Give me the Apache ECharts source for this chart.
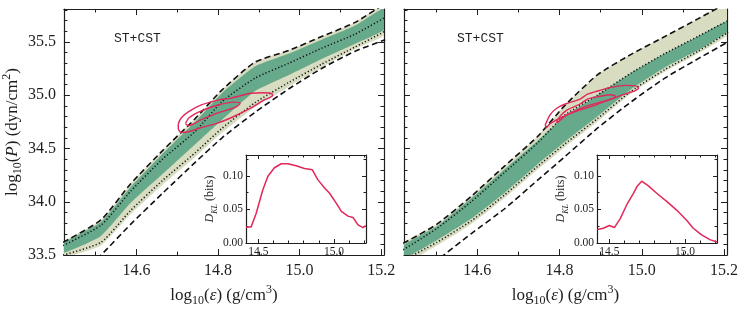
<!DOCTYPE html>
<html><head><meta charset="utf-8">
<script src="https://cdn.jsdelivr.net/npm/echarts@6/dist/echarts.min.js"></script>
<style>html,body{margin:0;padding:0;background:#fff}#c{width:747px;height:312px}</style>
</head><body><div id="c"></div>
<script>
// ---------- data ----------
const xGridL = [14.42, 14.513, 14.586, 14.664, 14.744, 14.810, 14.891, 14.974, 15.054, 15.135, 15.21];
const L_dashUp  = [33.62, 33.83, 34.17, 34.48, 34.78, 35.05, 35.31, 35.42, 35.55, 35.68, 35.86];
const L_dotUp   = [33.59, 33.78, 34.10, 34.40, 34.66, 34.94, 35.16, 35.30, 35.44, 35.57, 35.73];
const L_greenUp = [33.61, 33.81, 34.14, 34.45, 34.75, 35.02, 35.27, 35.39, 35.52, 35.65, 35.82];
const L_greenLo = [33.52, 33.68, 33.99, 34.26, 34.54, 34.77, 35.04, 35.19, 35.34, 35.48, 35.62];
const L_dotLo   = [33.50, 33.62, 33.92, 34.20, 34.46, 34.69, 34.93, 35.12, 35.29, 35.45, 35.60];
const L_beigeLo = [33.48, 33.59, 33.885, 34.16, 34.42, 34.65, 34.89, 35.08, 35.26, 35.43, 35.57];
const L_dashLo  = [33.15, 33.50, 33.79, 34.08, 34.37, 34.60, 34.84, 35.06, 35.25, 35.41, 35.52];

const xGridR = [14.42, 14.502, 14.585, 14.665, 14.746, 14.812, 14.892, 14.975, 15.056, 15.136, 15.21];
const R_dashUp  = [33.61, 33.79, 34.05, 34.33, 34.61, 34.90, 35.19, 35.385, 35.55, 35.715, 35.87];
const R_dotUp   = [33.55, 33.75, 34.00, 34.27, 34.55, 34.81, 35.00, 35.21, 35.39, 35.55, 35.70];
const R_greenUp = [33.59, 33.77, 34.03, 34.30, 34.57, 34.80, 35.00, 35.21, 35.39, 35.55, 35.70];
const R_greenLo = [33.47, 33.64, 33.84, 34.08, 34.35, 34.56, 34.80, 35.06, 35.26, 35.42, 35.60];
const R_dotLo   = [33.45, 33.62, 33.82, 34.06, 34.33, 34.54, 34.78, 35.04, 35.24, 35.41, 35.59];
const R_beigeLo = [33.42, 33.59, 33.79, 34.03, 34.30, 34.51, 34.75, 35.02, 35.22, 35.39, 35.57];
const R_dashLo  = [33.20, 33.45, 33.70, 33.93, 34.20, 34.42, 34.69, 34.94, 35.16, 35.34, 35.50];

// posterior contours (closed loops), [x, y]
const L_contourOuter = [[14.7025,34.733],[14.710,34.788],[14.727,34.843],[14.759,34.908],[14.800,34.954],[14.832,34.972],[14.881,35.018],[14.912,35.023],[14.929,35.018],[14.934,35.0],[14.924,34.972],[14.912,34.954],[14.881,34.880],[14.832,34.788],[14.795,34.733],[14.759,34.696],[14.729,34.659],[14.710,34.650],[14.7025,34.687],[14.7025,34.733]];
const L_contourInner = [[14.720,34.733],[14.729,34.788],[14.759,34.852],[14.800,34.908],[14.839,34.935],[14.854,34.926],[14.851,34.908],[14.839,34.880],[14.800,34.834],[14.759,34.770],[14.727,34.714],[14.720,34.733]];
const R_contourOuter = [[14.765,34.717],[14.777,34.816],[14.794,34.880],[14.814,34.917],[14.850,34.963],[14.868,35.009],[14.899,35.046],[14.924,35.073],[14.960,35.092],[14.985,35.087],[14.992,35.064],[14.980,35.036],[14.965,35.018],[14.924,34.963],[14.882,34.899],[14.843,34.853],[14.802,34.788],[14.777,34.733],[14.768,34.696],[14.765,34.717]];
const R_contourInner = [[14.792,34.742],[14.802,34.806],[14.819,34.862],[14.850,34.917],[14.868,34.963],[14.899,34.990],[14.924,35.004],[14.936,34.990],[14.926,34.963],[14.899,34.935],[14.868,34.899],[14.843,34.862],[14.814,34.806],[14.797,34.751],[14.792,34.742]];

// insets: KL divergence
const L_klX = [14.418,14.452,14.485,14.529,14.562,14.606,14.651,14.695,14.75,14.805,14.857,14.894,14.938,14.971,15.016,15.049,15.093,15.126,15.159,15.192,15.21];
const L_klY = [0.024,0.024,0.044,0.079,0.099,0.112,0.118,0.118,0.115,0.111,0.109,0.094,0.082,0.074,0.059,0.047,0.040,0.038,0.027,0.023,0.026];
const R_klX = [14.421,14.46,14.5,14.533,14.571,14.615,14.659,14.685,14.714,14.758,14.813,14.879,14.945,15.011,15.055,15.11,15.165,15.212];
const R_klY = [0.020,0.022,0.026,0.023,0.036,0.057,0.074,0.085,0.092,0.085,0.074,0.062,0.049,0.034,0.022,0.012,0.005,0.0015];

// ticks
const xMajorMain = [14.6, 14.8, 15.0, 15.2];
const xMinorMain = [14.5, 14.7, 14.9, 15.1];
const yMajorMain = [33.5, 34.0, 34.5, 35.0, 35.5];
const yMinorMain = [33.6,33.7,33.8,33.9,34.1,34.2,34.3,34.4,34.6,34.7,34.8,34.9,35.1,35.2,35.3,35.4,35.6,35.7,35.8];
const xMajorInset = [14.5, 15.0];
const xMinorInset = [14.6, 14.7, 14.8, 14.9, 15.1, 15.2];
const yMajorInset = [0, 0.05, 0.10];
const yMinorInset = [0.025, 0.075, 0.125];
const panelLabel = 'ST+CST';

// ---------- styling ----------
const INK = '#1e1e1e', GREEN = '#67a98b', BEIGE = '#d8dcc0', RED = '#e2275a';
const SERIF = 'Liberation Serif';
const MAIN_X = [14.422, 15.207], MAIN_Y = [33.5, 35.808];
const INS_X = [14.418, 15.212], INS_Y = [0, 0.131];

const xAxis = [], yAxis = [];
function addAxis(list, grid, pos, range, ticks, len, showLine, labelOpt, extra) {
  list.push(Object.assign({
    type: 'value', gridIndex: grid, position: pos, min: range[0], max: range[1],
    axisLine: {show: showLine, onZero: false, lineStyle: {color: INK, width: 1.2}},
    axisTick: {show: true, inside: true, length: len, customValues: ticks, lineStyle: {color: INK, width: 1}},
    axisLabel: labelOpt ? Object.assign({show: true, customValues: ticks}, labelOpt) : {show: false},
    splitLine: {show: false}, minorTick: {show: false}
  }, extra || {}));
  return list.length - 1;
}
const nameRich = (fs) => ({
  t: {fontFamily: SERIF, fontSize: fs, color: INK, lineHeight: fs + 6},
  i: {fontFamily: SERIF, fontSize: fs, fontStyle: 'italic', color: INK, lineHeight: fs + 6},
  s: {fontFamily: SERIF, fontSize: Math.round(fs * 0.68), color: INK, verticalAlign: 'bottom'},
  si: {fontFamily: SERIF, fontSize: Math.round(fs * 0.68), fontStyle: 'italic', color: INK, verticalAlign: 'bottom'},
  p: {fontFamily: SERIF, fontSize: Math.round(fs * 0.68), color: INK, verticalAlign: 'top'}
});
const mainLabel = {fontFamily: SERIF, fontSize: 16, color: INK, formatter: v => v.toFixed(1)};
const insetLabelX = {fontFamily: SERIF, fontSize: 11.5, color: INK, margin: 3, formatter: v => v.toFixed(1)};
const insetLabelY = {fontFamily: SERIF, fontSize: 11.5, color: INK, margin: 3, formatter: v => v.toFixed(2)};
const xName = {name: '{t|log}{s|10}{t|(}{i|ε}{t|) (g/cm}{p|3}{t|)}', nameLocation: 'middle', nameGap: 16,
  nameTextStyle: {rich: nameRich(17)}};
const yName = {name: '{t|log}{s|10}{t|(}{i|P}{t|) (dyn/cm}{p|2}{t|)}', nameLocation: 'middle', nameGap: 27,
  nameTextStyle: {rich: nameRich(17)}};
const klName = {name: '{i|D}{si|KL}{t| (bits)}', nameLocation: 'middle', nameGap: 26,
  nameTextStyle: {rich: nameRich(12)}};

const grids = [
  {left: 62, top: 9, width: 322, height: 251},
  {left: 404, top: 9, width: 323, height: 251},
  {left: 246, top: 155, width: 120, height: 88},
  {left: 597, top: 155, width: 120, height: 88}
];
const axIdx = [];
for (let g = 0; g < 4; g++) {
  const inset = g >= 2;
  const xr = inset ? INS_X : MAIN_X, yr = inset ? INS_Y : MAIN_Y;
  const xM = inset ? xMajorInset : xMajorMain, xm = inset ? xMinorInset : xMinorMain;
  const yM = inset ? yMajorInset : yMajorMain, ym = inset ? yMinorInset : yMinorMain;
  const ML = inset ? 4 : 6, mL = inset ? 2.5 : 3.5;
  const xi = addAxis(xAxis, g, 'bottom', xr, xM, ML, true, inset ? insetLabelX : mainLabel, inset ? null : xName);
  addAxis(xAxis, g, 'bottom', xr, xm, mL, false, null);
  addAxis(xAxis, g, 'top', xr, xM, ML, true, null);
  addAxis(xAxis, g, 'top', xr, xm, mL, false, null);
  const yi = addAxis(yAxis, g, 'left', yr, yM, ML, true, inset ? insetLabelY : (g === 0 ? mainLabel : null),
    inset ? klName : (g === 0 ? yName : null));
  addAxis(yAxis, g, 'left', yr, ym, mL, false, null);
  addAxis(yAxis, g, 'right', yr, yM, ML, true, null);
  addAxis(yAxis, g, 'right', yr, ym, mL, false, null);
  axIdx.push([xi, yi]);
}

const zip = (xs, ys) => xs.map((x, i) => [x, ys[i]]);
function band(g, xs, lo, hi, color, z) {
  return {
    type: 'custom', xAxisIndex: axIdx[g][0], yAxisIndex: axIdx[g][1], z: z, silent: true,
    data: [[xs[0], lo[0]]],
    renderItem: (params, api) => {
      const pts = [];
      for (let i = 0; i < xs.length; i++) pts.push(api.coord([xs[i], hi[i]]));
      for (let i = xs.length - 1; i >= 0; i--) pts.push(api.coord([xs[i], lo[i]]));
      const cs = params.coordSys;
      return {type: 'polygon', shape: {points: pts, smooth: 0.15}, style: {fill: color},
        clipPath: {type: 'rect', shape: {x: cs.x, y: cs.y, width: cs.width, height: cs.height}}};
    }
  };
}
function line(g, data, style, z, smooth) {
  return {type: 'line', xAxisIndex: axIdx[g][0], yAxisIndex: axIdx[g][1], data: data, symbol: 'none',
    smooth: smooth, lineStyle: style, z: z, silent: true, clip: true};
}
const dashed = {color: '#111', width: 1.6, type: [6, 3.5]};
const dotted = {color: '#111', width: 1.5, type: [1.2, 2.2]};
const redL = {color: RED, width: 1.4};

const series = [];
function panel(g, xs, dU, dtU, gU, gL, dtL, bL, dL, cO, cI) {
  series.push(band(g, xs, bL, dU, BEIGE, 1));
  series.push(band(g, xs, gL, gU, GREEN, 2));
  series.push(line(g, zip(xs, dU), dashed, 3, 0.2));
  series.push(line(g, zip(xs, dL), dashed, 3, 0.2));
  series.push(line(g, zip(xs, dtU), dotted, 3, 0.2));
  series.push(line(g, zip(xs, dtL), dotted, 3, 0.2));
  series.push(line(g, cO, redL, 4, 0.3));
  series.push(line(g, cI, redL, 4, 0.3));
}
panel(0, xGridL, L_dashUp, L_dotUp, L_greenUp, L_greenLo, L_dotLo, L_beigeLo, L_dashLo, L_contourOuter, L_contourInner);
panel(1, xGridR, R_dashUp, R_dotUp, R_greenUp, R_greenLo, R_dotLo, R_beigeLo, R_dashLo, R_contourOuter, R_contourInner);
series.push(line(2, zip(L_klX, L_klY), {color: RED, width: 1.5}, 4, false));
series.push(line(3, zip(R_klX, R_klY), {color: RED, width: 1.5}, 4, false));

const chart = echarts.init(document.getElementById('c'), null, {renderer: 'canvas'});
chart.setOption({
  animation: false,
  backgroundColor: '#fff',
  title: [
    {text: panelLabel, left: 114, top: 32, padding: 0, textStyle: {fontFamily: 'Liberation Mono', fontSize: 13, fontWeight: 'normal', color: INK}},
    {text: panelLabel, left: 457, top: 32, padding: 0, textStyle: {fontFamily: 'Liberation Mono', fontSize: 13, fontWeight: 'normal', color: INK}}
  ],
  grid: grids,
  xAxis: xAxis,
  yAxis: yAxis,
  series: series
});
</script></body></html>
